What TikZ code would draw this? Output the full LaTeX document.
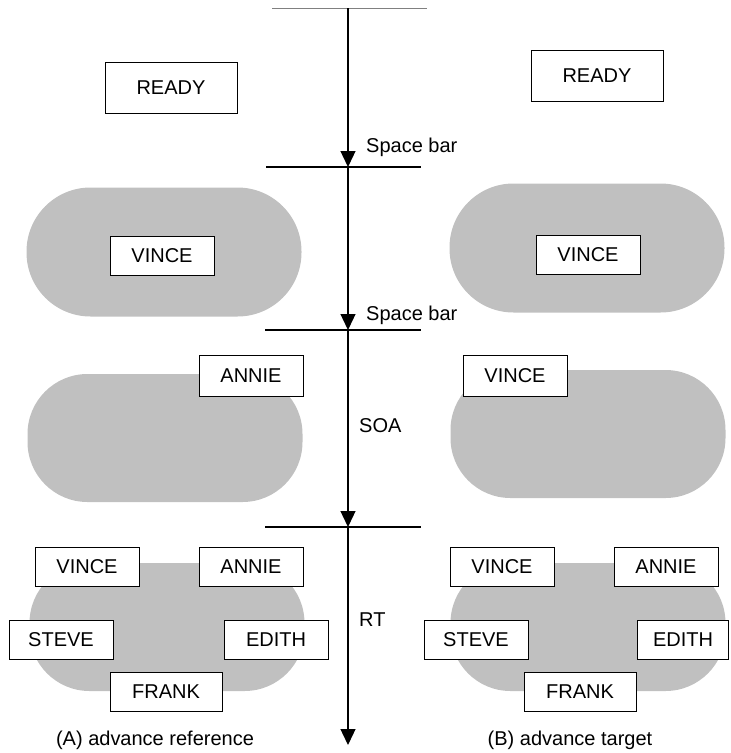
\documentclass[tikz,border=0pt]{standalone}
\usepackage{fontspec}
\setmainfont{Liberation Sans}
\usetikzlibrary{arrows.meta}
\definecolor{blobgray}{RGB}{192,192,192}

\begin{document}
\begin{tikzpicture}[
  x=1pt, y=-1pt,
  every node/.style={font=\fontsize{20}{24}\selectfont, inner sep=0pt},
  namebox/.style={draw, line width=1pt, fill=white, minimum width=104pt, minimum height=39pt},
  readybox/.style={namebox, minimum width=132pt, minimum height=51pt},
  wide/.style={minimum width=112pt},
  blob/.style={fill=blobgray, rounded corners=60pt, minimum width=275pt, minimum height=128pt},
  timeline/.style={draw, line width=1.3pt, -{Triangle[length=16pt, width=15pt]}},
  tick/.style={draw, line width=1.2pt}
]
\useasboundingbox (0,0) rectangle (731,753);

% time axis
\coordinate (t0) at (348,8);
\coordinate (t1) at (348,167);
\coordinate (t2) at (348,330);
\coordinate (t3) at (348,527);
\coordinate (t4) at (348,745);
\draw[line width=0.6pt, gray] (272,8) -- (427,8);
\draw[tick] ([xshift=-82pt]t1) -- ([xshift=73pt]t1);
\draw[tick] ([xshift=-83pt]t2) -- ([xshift=73pt]t2);
\draw[tick] ([xshift=-83pt]t3) -- ([xshift=73pt]t3);
\draw[timeline] (t0) -- (t1);
\draw[timeline] (t1) -- (t2);
\draw[timeline] (t2) -- (t3);
\draw[timeline] (t3) -- (t4);
\node[anchor=west] (space1) at (366,147) {Space bar};
\node[anchor=west] (space2) at (366,315) {Space bar};
\node[anchor=west] (soa) at (359,426) {SOA};
\node[anchor=west] (rt) at (359,620) {RT};

% gray areas
\node[blob, rounded corners=64pt, minimum height=129pt] (fixL) at (164,252) {};
\node[blob, rounded corners=64pt, minimum height=129pt] (fixR) at (587,248) {};
\node[blob] (soaL) at (165,438) {};
\node[blob] (soaR) at (588,434) {};
\node[blob] (rtL) at (167,627) {};
\node[blob] (rtR) at (588,627) {};

% (A) advance reference
\node[readybox] (readyL) at (171,88) {READY};
\node[namebox] (vinceL) at (162,256) {VINCE};
\node[namebox, minimum height=41pt] (annieL) at (251,376) {ANNIE};
\node[namebox] (vinceLL) at (87,567) {VINCE};
\node[namebox] (annieLL) at (251,567) {ANNIE};
\node[namebox] (steveL) at (61,640) {STEVE};
\node[namebox] (edithL) at (276,640) {EDITH};
\node[namebox, wide] (frankL) at (166,692) {FRANK};
\node (capA) at (155,740) {(A) advance reference};

% (B) advance target
\node[readybox] (readyR) at (597,76) {READY};
\node[namebox] (vinceR) at (588,255) {VINCE};
\node[namebox, minimum height=41pt] (vinceRR) at (515,376) {VINCE};
\node[namebox] (vinceRRR) at (502,567) {VINCE};
\node[namebox] (annieR) at (666,567) {ANNIE};
\node[namebox] (steveR) at (476,640) {STEVE};
\node[namebox, minimum width=91pt] (edithR) at (683,640) {EDITH};
\node[namebox, wide] (frankR) at (580,692) {FRANK};
\node (capB) at (570,740) {(B) advance target};
\end{tikzpicture}
\end{document}
